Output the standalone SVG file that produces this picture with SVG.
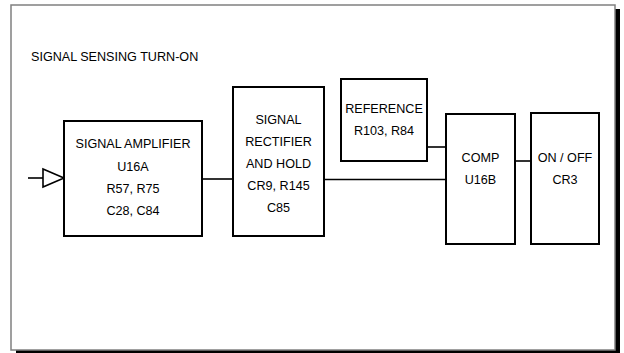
<svg xmlns="http://www.w3.org/2000/svg" width="624" height="353" viewBox="0 0 624 353">
<style>
text{font-family:"Liberation Sans",Arial,sans-serif;font-size:12.6px;fill:#000;text-anchor:middle}
.box{fill:#fff;stroke:#000;stroke-width:2}
.wire{fill:none;stroke:#000;stroke-width:1.6}
</style>
<rect x="16" y="9" width="604" height="344" fill="#000"/>
<rect x="11" y="5" width="604" height="345" fill="#fff" stroke="#808080" stroke-width="1.5"/>
<text x="31" y="61" style="text-anchor:start">SIGNAL SENSING TURN-ON</text>
<g id="connectors">
<line class="wire" x1="28" y1="178" x2="43" y2="178"/>
<polygon points="43,169 43,187 64,178" fill="#fff" stroke="#000" stroke-width="1.6"/>
<line class="wire" x1="202" y1="179" x2="233" y2="179"/>
<line class="wire" x1="324" y1="179.5" x2="446" y2="179.5"/>
<line class="wire" x1="427" y1="147" x2="446" y2="147"/>
<line class="wire" x1="515" y1="161" x2="531" y2="161"/>
</g>
<g id="amplifier">
<rect class="box" x="64" y="121" width="138" height="115"/>
<text x="133" y="148">SIGNAL AMPLIFIER</text>
<text x="133" y="171">U16A</text>
<text x="133" y="193">R57, R75</text>
<text x="133" y="215">C28, C84</text>
</g>
<g id="rectifier">
<rect class="box" x="233" y="87" width="91" height="149"/>
<text x="278.5" y="124">SIGNAL</text>
<text x="278.5" y="146">RECTIFIER</text>
<text x="278.5" y="168">AND HOLD</text>
<text x="278.5" y="190">CR9, R145</text>
<text x="278.5" y="212">C85</text>
</g>
<g id="reference">
<rect class="box" x="341" y="79" width="86" height="82"/>
<text x="384" y="113">REFERENCE</text>
<text x="384" y="135">R103, R84</text>
</g>
<g id="comp">
<rect class="box" x="446" y="114" width="69" height="130"/>
<text x="480.5" y="162">COMP</text>
<text x="480.5" y="184">U16B</text>
</g>
<g id="onoff">
<rect class="box" x="531" y="113" width="68" height="131"/>
<text x="565" y="162">ON / OFF</text>
<text x="565" y="184">CR3</text>
</g>
</svg>
